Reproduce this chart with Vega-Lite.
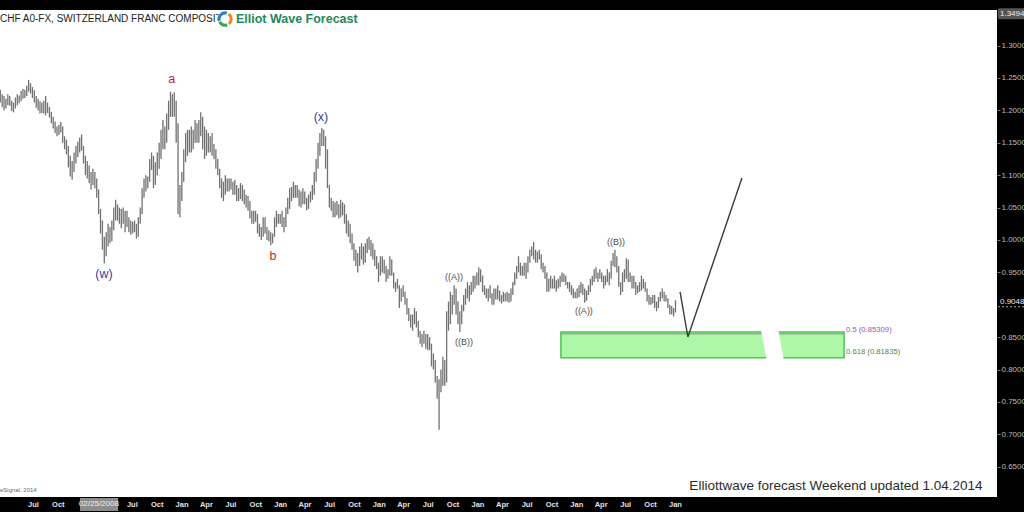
{
"$schema":"https://vega.github.io/schema/vega-lite/v6.json",
"width":997,"height":487,
"autosize":{"type":"none"},
"padding":{"left":0,"top":10,"right":27,"bottom":15},
"background":"#000000",
"config":{"font":"Liberation Sans","view":{"stroke":null,"fill":"#ffffff"},"axis":{"grid":false,"labelOverlap":false,"labelFlush":false,"labelBound":false}},
"datasets":{"bars":[
{"d":"2007-03-02","h":1.232,"l":1.212},{"d":"2007-03-09","h":1.225,"l":1.205},{"d":"2007-03-16","h":1.222,"l":1.200},{"d":"2007-03-23","h":1.218,"l":1.203},{"d":"2007-03-30","h":1.225,"l":1.208},
{"d":"2007-04-06","h":1.222,"l":1.207},{"d":"2007-04-13","h":1.215,"l":1.199},{"d":"2007-04-20","h":1.212,"l":1.197},{"d":"2007-04-27","h":1.220,"l":1.203},
{"d":"2007-05-04","h":1.225,"l":1.208},{"d":"2007-05-11","h":1.223,"l":1.211},{"d":"2007-05-18","h":1.230,"l":1.214},{"d":"2007-05-25","h":1.233,"l":1.218},
{"d":"2007-06-01","h":1.232,"l":1.219},{"d":"2007-06-08","h":1.238,"l":1.222},{"d":"2007-06-15","h":1.247,"l":1.229},{"d":"2007-06-22","h":1.242,"l":1.226},{"d":"2007-06-29","h":1.236,"l":1.219},
{"d":"2007-07-06","h":1.231,"l":1.212},{"d":"2007-07-13","h":1.222,"l":1.204},{"d":"2007-07-20","h":1.218,"l":1.200},{"d":"2007-07-27","h":1.214,"l":1.195},
{"d":"2007-08-03","h":1.212,"l":1.196},{"d":"2007-08-10","h":1.215,"l":1.195},{"d":"2007-08-17","h":1.222,"l":1.192},{"d":"2007-08-24","h":1.212,"l":1.196},{"d":"2007-08-31","h":1.205,"l":1.189},
{"d":"2007-09-07","h":1.198,"l":1.180},{"d":"2007-09-14","h":1.190,"l":1.172},{"d":"2007-09-21","h":1.183,"l":1.165},{"d":"2007-09-28","h":1.175,"l":1.160},
{"d":"2007-10-05","h":1.178,"l":1.162},{"d":"2007-10-12","h":1.182,"l":1.166},{"d":"2007-10-19","h":1.175,"l":1.150},{"d":"2007-10-26","h":1.160,"l":1.140},
{"d":"2007-11-02","h":1.155,"l":1.132},{"d":"2007-11-09","h":1.145,"l":1.112},{"d":"2007-11-16","h":1.130,"l":1.098},{"d":"2007-11-23","h":1.122,"l":1.093},{"d":"2007-11-30","h":1.135,"l":1.105},
{"d":"2007-12-07","h":1.145,"l":1.118},{"d":"2007-12-14","h":1.152,"l":1.128},{"d":"2007-12-21","h":1.158,"l":1.135},{"d":"2007-12-28","h":1.163,"l":1.138},
{"d":"2008-01-04","h":1.145,"l":1.118},{"d":"2008-01-11","h":1.130,"l":1.100},{"d":"2008-01-18","h":1.122,"l":1.095},{"d":"2008-01-25","h":1.115,"l":1.088},
{"d":"2008-02-01","h":1.105,"l":1.078},{"d":"2008-02-08","h":1.110,"l":1.085},{"d":"2008-02-15","h":1.105,"l":1.080},{"d":"2008-02-22","h":1.095,"l":1.065},{"d":"2008-02-29","h":1.078,"l":1.040},
{"d":"2008-03-07","h":1.048,"l":1.010},{"d":"2008-03-14","h":1.030,"l":0.985},{"d":"2008-03-21","h":1.005,"l":0.964},{"d":"2008-03-28","h":1.012,"l":0.975},
{"d":"2008-04-04","h":1.025,"l":0.990},{"d":"2008-04-11","h":1.020,"l":0.995},{"d":"2008-04-18","h":1.030,"l":0.998},{"d":"2008-04-25","h":1.050,"l":1.015},
{"d":"2008-05-02","h":1.062,"l":1.030},{"d":"2008-05-09","h":1.055,"l":1.030},{"d":"2008-05-16","h":1.050,"l":1.025},{"d":"2008-05-23","h":1.048,"l":1.018},{"d":"2008-05-30","h":1.050,"l":1.025},
{"d":"2008-06-06","h":1.045,"l":1.012},{"d":"2008-06-13","h":1.045,"l":1.020},{"d":"2008-06-20","h":1.035,"l":1.012},{"d":"2008-06-27","h":1.030,"l":1.008},
{"d":"2008-07-04","h":1.028,"l":1.010},{"d":"2008-07-11","h":1.030,"l":1.012},{"d":"2008-07-18","h":1.025,"l":1.002},{"d":"2008-07-25","h":1.035,"l":1.005},
{"d":"2008-08-01","h":1.050,"l":1.025},{"d":"2008-08-08","h":1.080,"l":1.040},{"d":"2008-08-15","h":1.095,"l":1.065},{"d":"2008-08-22","h":1.100,"l":1.075},{"d":"2008-08-29","h":1.098,"l":1.080},
{"d":"2008-09-05","h":1.125,"l":1.090},{"d":"2008-09-12","h":1.135,"l":1.108},{"d":"2008-09-19","h":1.130,"l":1.080},{"d":"2008-09-26","h":1.120,"l":1.085},
{"d":"2008-10-03","h":1.135,"l":1.100},{"d":"2008-10-10","h":1.150,"l":1.110},{"d":"2008-10-17","h":1.170,"l":1.125},{"d":"2008-10-24","h":1.185,"l":1.140},{"d":"2008-10-31","h":1.175,"l":1.140},
{"d":"2008-11-07","h":1.195,"l":1.150},{"d":"2008-11-14","h":1.215,"l":1.170},{"d":"2008-11-21","h":1.229,"l":1.190},{"d":"2008-11-28","h":1.225,"l":1.190},
{"d":"2008-12-05","h":1.228,"l":1.190},{"d":"2008-12-12","h":1.215,"l":1.150},{"d":"2008-12-19","h":1.180,"l":1.040},{"d":"2008-12-26","h":1.085,"l":1.035},
{"d":"2009-01-02","h":1.105,"l":1.060},{"d":"2009-01-09","h":1.140,"l":1.090},{"d":"2009-01-16","h":1.165,"l":1.120},{"d":"2009-01-23","h":1.170,"l":1.130},{"d":"2009-01-30","h":1.170,"l":1.135},
{"d":"2009-02-06","h":1.175,"l":1.135},{"d":"2009-02-13","h":1.170,"l":1.140},{"d":"2009-02-20","h":1.185,"l":1.150},{"d":"2009-02-27","h":1.180,"l":1.150},
{"d":"2009-03-06","h":1.185,"l":1.150},{"d":"2009-03-13","h":1.197,"l":1.160},{"d":"2009-03-20","h":1.190,"l":1.140},{"d":"2009-03-27","h":1.175,"l":1.125},
{"d":"2009-04-03","h":1.170,"l":1.130},{"d":"2009-04-10","h":1.165,"l":1.135},{"d":"2009-04-17","h":1.160,"l":1.135},{"d":"2009-04-24","h":1.165,"l":1.130},
{"d":"2009-05-01","h":1.148,"l":1.125},{"d":"2009-05-08","h":1.140,"l":1.110},{"d":"2009-05-15","h":1.125,"l":1.100},{"d":"2009-05-22","h":1.110,"l":1.080},{"d":"2009-05-29","h":1.095,"l":1.065},
{"d":"2009-06-05","h":1.090,"l":1.060},{"d":"2009-06-12","h":1.100,"l":1.070},{"d":"2009-06-19","h":1.095,"l":1.075},{"d":"2009-06-26","h":1.095,"l":1.075},
{"d":"2009-07-03","h":1.095,"l":1.078},{"d":"2009-07-10","h":1.090,"l":1.070},{"d":"2009-07-17","h":1.093,"l":1.070},{"d":"2009-07-24","h":1.085,"l":1.060},{"d":"2009-07-31","h":1.080,"l":1.060},
{"d":"2009-08-07","h":1.088,"l":1.063},{"d":"2009-08-14","h":1.085,"l":1.060},{"d":"2009-08-21","h":1.078,"l":1.055},{"d":"2009-08-28","h":1.070,"l":1.050},
{"d":"2009-09-04","h":1.068,"l":1.045},{"d":"2009-09-11","h":1.060,"l":1.033},{"d":"2009-09-18","h":1.045,"l":1.025},{"d":"2009-09-25","h":1.045,"l":1.025},
{"d":"2009-10-02","h":1.045,"l":1.028},{"d":"2009-10-09","h":1.040,"l":1.010},{"d":"2009-10-16","h":1.025,"l":1.005},{"d":"2009-10-23","h":1.020,"l":1.000},{"d":"2009-10-30","h":1.035,"l":1.005},
{"d":"2009-11-06","h":1.035,"l":1.010},{"d":"2009-11-13","h":1.020,"l":1.000},{"d":"2009-11-20","h":1.015,"l":0.998},{"d":"2009-11-27","h":1.012,"l":0.992},
{"d":"2009-12-04","h":1.010,"l":0.995},{"d":"2009-12-11","h":1.035,"l":1.005},{"d":"2009-12-18","h":1.045,"l":1.020},{"d":"2009-12-25","h":1.040,"l":1.025},
{"d":"2010-01-01","h":1.040,"l":1.025},{"d":"2010-01-08","h":1.045,"l":1.020},{"d":"2010-01-15","h":1.035,"l":1.012},{"d":"2010-01-22","h":1.050,"l":1.020},{"d":"2010-01-29","h":1.065,"l":1.040},
{"d":"2010-02-05","h":1.080,"l":1.048},{"d":"2010-02-12","h":1.082,"l":1.060},{"d":"2010-02-19","h":1.090,"l":1.065},{"d":"2010-02-26","h":1.085,"l":1.065},
{"d":"2010-03-05","h":1.085,"l":1.065},{"d":"2010-03-12","h":1.078,"l":1.052},{"d":"2010-03-19","h":1.075,"l":1.050},{"d":"2010-03-26","h":1.080,"l":1.055},
{"d":"2010-04-02","h":1.075,"l":1.055},{"d":"2010-04-09","h":1.065,"l":1.046},{"d":"2010-04-16","h":1.070,"l":1.048},{"d":"2010-04-23","h":1.075,"l":1.058},{"d":"2010-04-30","h":1.085,"l":1.062},
{"d":"2010-05-07","h":1.105,"l":1.070},{"d":"2010-05-14","h":1.125,"l":1.090},{"d":"2010-05-21","h":1.150,"l":1.110},{"d":"2010-05-28","h":1.165,"l":1.130},
{"d":"2010-06-04","h":1.173,"l":1.145},{"d":"2010-06-11","h":1.170,"l":1.145},{"d":"2010-06-18","h":1.160,"l":1.110},{"d":"2010-06-25","h":1.140,"l":1.080},
{"d":"2010-07-02","h":1.085,"l":1.050},{"d":"2010-07-09","h":1.065,"l":1.045},{"d":"2010-07-16","h":1.060,"l":1.035},{"d":"2010-07-23","h":1.058,"l":1.035},{"d":"2010-07-30","h":1.060,"l":1.038},
{"d":"2010-08-06","h":1.055,"l":1.033},{"d":"2010-08-13","h":1.062,"l":1.035},{"d":"2010-08-20","h":1.058,"l":1.038},{"d":"2010-08-27","h":1.055,"l":1.025},
{"d":"2010-09-03","h":1.040,"l":1.010},{"d":"2010-09-10","h":1.030,"l":1.005},{"d":"2010-09-17","h":1.025,"l":0.995},{"d":"2010-09-24","h":1.010,"l":0.985},
{"d":"2010-10-01","h":0.995,"l":0.968},{"d":"2010-10-08","h":0.985,"l":0.960},{"d":"2010-10-15","h":0.980,"l":0.950},{"d":"2010-10-22","h":0.990,"l":0.960},{"d":"2010-10-29","h":0.995,"l":0.970},
{"d":"2010-11-05","h":0.990,"l":0.962},{"d":"2010-11-12","h":0.995,"l":0.965},{"d":"2010-11-19","h":1.002,"l":0.980},{"d":"2010-11-26","h":1.005,"l":0.985},
{"d":"2010-12-03","h":1.000,"l":0.975},{"d":"2010-12-10","h":0.995,"l":0.970},{"d":"2010-12-17","h":0.985,"l":0.960},{"d":"2010-12-24","h":0.975,"l":0.955},{"d":"2010-12-31","h":0.965,"l":0.935},
{"d":"2011-01-07","h":0.975,"l":0.945},{"d":"2011-01-14","h":0.975,"l":0.950},{"d":"2011-01-21","h":0.970,"l":0.948},{"d":"2011-01-28","h":0.960,"l":0.935},
{"d":"2011-02-04","h":0.955,"l":0.940},{"d":"2011-02-11","h":0.975,"l":0.945},{"d":"2011-02-18","h":0.970,"l":0.945},{"d":"2011-02-25","h":0.950,"l":0.925},
{"d":"2011-03-04","h":0.935,"l":0.920},{"d":"2011-03-11","h":0.940,"l":0.925},{"d":"2011-03-18","h":0.930,"l":0.895},{"d":"2011-03-25","h":0.925,"l":0.905},
{"d":"2011-04-01","h":0.930,"l":0.912},{"d":"2011-04-08","h":0.920,"l":0.900},{"d":"2011-04-15","h":0.910,"l":0.885},{"d":"2011-04-22","h":0.895,"l":0.875},{"d":"2011-04-29","h":0.885,"l":0.865},
{"d":"2011-05-06","h":0.885,"l":0.860},{"d":"2011-05-13","h":0.895,"l":0.870},{"d":"2011-05-20","h":0.890,"l":0.865},{"d":"2011-05-27","h":0.875,"l":0.850},
{"d":"2011-06-03","h":0.860,"l":0.840},{"d":"2011-06-10","h":0.855,"l":0.835},{"d":"2011-06-17","h":0.860,"l":0.840},{"d":"2011-06-24","h":0.855,"l":0.832},
{"d":"2011-07-01","h":0.855,"l":0.830},{"d":"2011-07-08","h":0.850,"l":0.830},{"d":"2011-07-15","h":0.840,"l":0.805},{"d":"2011-07-22","h":0.825,"l":0.800},{"d":"2011-07-29","h":0.815,"l":0.780},
{"d":"2011-08-05","h":0.790,"l":0.755},{"d":"2011-08-12","h":0.785,"l":0.707},{"d":"2011-08-19","h":0.800,"l":0.765},{"d":"2011-08-26","h":0.820,"l":0.775},
{"d":"2011-09-02","h":0.815,"l":0.775},{"d":"2011-09-09","h":0.890,"l":0.780},{"d":"2011-09-16","h":0.905,"l":0.860},{"d":"2011-09-23","h":0.920,"l":0.870},{"d":"2011-09-30","h":0.915,"l":0.885},
{"d":"2011-10-07","h":0.930,"l":0.900},{"d":"2011-10-14","h":0.925,"l":0.885},{"d":"2011-10-21","h":0.905,"l":0.870},{"d":"2011-10-28","h":0.890,"l":0.858},
{"d":"2011-11-04","h":0.900,"l":0.870},{"d":"2011-11-11","h":0.915,"l":0.890},{"d":"2011-11-18","h":0.925,"l":0.900},{"d":"2011-11-25","h":0.935,"l":0.910},
{"d":"2011-12-02","h":0.930,"l":0.905},{"d":"2011-12-09","h":0.935,"l":0.915},{"d":"2011-12-16","h":0.945,"l":0.920},{"d":"2011-12-23","h":0.945,"l":0.925},{"d":"2011-12-30","h":0.950,"l":0.930},
{"d":"2012-01-06","h":0.958,"l":0.930},{"d":"2012-01-13","h":0.955,"l":0.935},{"d":"2012-01-20","h":0.945,"l":0.920},{"d":"2012-01-27","h":0.930,"l":0.915},
{"d":"2012-02-03","h":0.925,"l":0.910},{"d":"2012-02-10","h":0.925,"l":0.905},{"d":"2012-02-17","h":0.930,"l":0.910},{"d":"2012-02-24","h":0.918,"l":0.900},
{"d":"2012-03-02","h":0.925,"l":0.900},{"d":"2012-03-09","h":0.925,"l":0.908},{"d":"2012-03-16","h":0.930,"l":0.908},{"d":"2012-03-23","h":0.922,"l":0.905},{"d":"2012-03-30","h":0.915,"l":0.902},
{"d":"2012-04-06","h":0.920,"l":0.905},{"d":"2012-04-13","h":0.918,"l":0.905},{"d":"2012-04-20","h":0.920,"l":0.905},{"d":"2012-04-27","h":0.918,"l":0.903},
{"d":"2012-05-04","h":0.925,"l":0.905},{"d":"2012-05-11","h":0.935,"l":0.915},{"d":"2012-05-18","h":0.950,"l":0.930},{"d":"2012-05-25","h":0.960,"l":0.940},
{"d":"2012-06-01","h":0.975,"l":0.950},{"d":"2012-06-08","h":0.965,"l":0.945},{"d":"2012-06-15","h":0.960,"l":0.945},{"d":"2012-06-22","h":0.965,"l":0.945},{"d":"2012-06-29","h":0.965,"l":0.940},
{"d":"2012-07-06","h":0.975,"l":0.950},{"d":"2012-07-13","h":0.985,"l":0.965},{"d":"2012-07-20","h":0.990,"l":0.975},{"d":"2012-07-27","h":0.997,"l":0.970},
{"d":"2012-08-03","h":0.985,"l":0.965},{"d":"2012-08-10","h":0.982,"l":0.965},{"d":"2012-08-17","h":0.985,"l":0.970},{"d":"2012-08-24","h":0.978,"l":0.955},{"d":"2012-08-31","h":0.965,"l":0.950},
{"d":"2012-09-07","h":0.960,"l":0.940},{"d":"2012-09-14","h":0.950,"l":0.920},{"d":"2012-09-21","h":0.940,"l":0.920},{"d":"2012-09-28","h":0.945,"l":0.925},
{"d":"2012-10-05","h":0.940,"l":0.925},{"d":"2012-10-12","h":0.945,"l":0.925},{"d":"2012-10-19","h":0.938,"l":0.920},{"d":"2012-10-26","h":0.940,"l":0.925},
{"d":"2012-11-02","h":0.945,"l":0.928},{"d":"2012-11-09","h":0.950,"l":0.935},{"d":"2012-11-16","h":0.948,"l":0.935},{"d":"2012-11-23","h":0.945,"l":0.930},{"d":"2012-11-30","h":0.935,"l":0.925},
{"d":"2012-12-07","h":0.935,"l":0.920},{"d":"2012-12-14","h":0.930,"l":0.915},{"d":"2012-12-21","h":0.925,"l":0.910},{"d":"2012-12-28","h":0.920,"l":0.910},
{"d":"2013-01-04","h":0.925,"l":0.910},{"d":"2013-01-11","h":0.930,"l":0.912},{"d":"2013-01-18","h":0.935,"l":0.918},{"d":"2013-01-25","h":0.932,"l":0.915},
{"d":"2013-02-01","h":0.925,"l":0.903},{"d":"2013-02-08","h":0.922,"l":0.906},{"d":"2013-02-15","h":0.930,"l":0.915},{"d":"2013-02-22","h":0.940,"l":0.920},
{"d":"2013-03-01","h":0.945,"l":0.930},{"d":"2013-03-08","h":0.955,"l":0.935},{"d":"2013-03-15","h":0.958,"l":0.940},{"d":"2013-03-22","h":0.950,"l":0.935},{"d":"2013-03-29","h":0.955,"l":0.940},
{"d":"2013-04-05","h":0.950,"l":0.935},{"d":"2013-04-12","h":0.945,"l":0.925},{"d":"2013-04-19","h":0.945,"l":0.930},{"d":"2013-04-26","h":0.955,"l":0.935},
{"d":"2013-05-03","h":0.950,"l":0.930},{"d":"2013-05-10","h":0.968,"l":0.940},{"d":"2013-05-17","h":0.980,"l":0.960},{"d":"2013-05-24","h":0.985,"l":0.958},{"d":"2013-05-31","h":0.975,"l":0.950},
{"d":"2013-06-07","h":0.960,"l":0.928},{"d":"2013-06-14","h":0.935,"l":0.915},{"d":"2013-06-21","h":0.950,"l":0.920},{"d":"2013-06-28","h":0.955,"l":0.935},
{"d":"2013-07-05","h":0.972,"l":0.940},{"d":"2013-07-12","h":0.970,"l":0.935},{"d":"2013-07-19","h":0.950,"l":0.935},{"d":"2013-07-26","h":0.945,"l":0.925},
{"d":"2013-08-02","h":0.945,"l":0.925},{"d":"2013-08-09","h":0.935,"l":0.915},{"d":"2013-08-16","h":0.930,"l":0.918},{"d":"2013-08-23","h":0.935,"l":0.920},{"d":"2013-08-30","h":0.945,"l":0.922},
{"d":"2013-09-06","h":0.940,"l":0.925},{"d":"2013-09-13","h":0.935,"l":0.920},{"d":"2013-09-20","h":0.925,"l":0.905},{"d":"2013-09-27","h":0.915,"l":0.900},
{"d":"2013-10-04","h":0.912,"l":0.900},{"d":"2013-10-11","h":0.915,"l":0.902},{"d":"2013-10-18","h":0.915,"l":0.895},{"d":"2013-10-25","h":0.905,"l":0.890},
{"d":"2013-11-01","h":0.912,"l":0.895},{"d":"2013-11-08","h":0.920,"l":0.905},{"d":"2013-11-15","h":0.925,"l":0.910},{"d":"2013-11-22","h":0.920,"l":0.905},{"d":"2013-11-29","h":0.915,"l":0.905},
{"d":"2013-12-06","h":0.910,"l":0.895},{"d":"2013-12-13","h":0.900,"l":0.885},{"d":"2013-12-20","h":0.898,"l":0.885},{"d":"2013-12-27","h":0.895,"l":0.882},
{"d":"2014-01-03","h":0.907,"l":0.888}
]},
"layer":[
{"data":{"name":"bars"},
 "mark":{"type":"rule","color":"#717171","strokeWidth":1.3},
 "encoding":{
  "x":{"field":"d","type":"temporal","title":null,
   "scale":{"domain":[{"year":2007,"month":3,"date":1},{"year":2017,"month":4,"date":7}],"nice":false},
   "axis":{"orient":"bottom","format":"%b","formatType":"time",
    "values":[{"year":2007,"month":7,"date":1},{"year":2007,"month":10,"date":1},{"year":2008,"month":7,"date":1},{"year":2008,"month":10,"date":1},
     {"year":2009,"month":1,"date":1},{"year":2009,"month":4,"date":1},{"year":2009,"month":7,"date":1},{"year":2009,"month":10,"date":1},
     {"year":2010,"month":1,"date":1},{"year":2010,"month":4,"date":1},{"year":2010,"month":7,"date":1},{"year":2010,"month":10,"date":1},
     {"year":2011,"month":1,"date":1},{"year":2011,"month":4,"date":1},{"year":2011,"month":7,"date":1},{"year":2011,"month":10,"date":1},
     {"year":2012,"month":1,"date":1},{"year":2012,"month":4,"date":1},{"year":2012,"month":7,"date":1},{"year":2012,"month":10,"date":1},
     {"year":2013,"month":1,"date":1},{"year":2013,"month":4,"date":1},{"year":2013,"month":7,"date":1},{"year":2013,"month":10,"date":1},
     {"year":2014,"month":1,"date":1}],
    "labelColor":"#e4e4e4","labelFontSize":7.5,"labelFontWeight":"bold","ticks":false,"domain":false,"grid":false,
    "labelPadding":3,"labelOverlap":false,"labelFlush":false,"labelSeparation":0}},
  "y":{"field":"h","type":"quantitative","title":null,
   "scale":{"domain":[0.6034,1.3549],"nice":false,"zero":false},
   "axis":{"orient":"right","values":[0.65,0.7,0.75,0.8,0.85,0.95,1.0,1.05,1.1,1.15,1.2,1.25,1.3],"format":".5f",
    "labelColor":"#bdbdbd","labelFontSize":8,"tickSize":3,"tickColor":"#777777","domain":false,"grid":false,
    "labelPadding":1,"labelOverlap":false,"labelFlush":false}},
  "y2":{"field":"l"}}},
{"data":{"values":[{"a":"2012-11-05","b":"2015-09-19","top":0.858,"bot":0.8183}]},
 "mark":{"type":"rect","fill":"#adf8a8","stroke":"#4fc24f","strokeWidth":1.5},
 "encoding":{"x":{"field":"a","type":"temporal","title":null},"x2":{"field":"b"},
  "y":{"field":"top","type":"quantitative","title":null},"y2":{"field":"bot"}}},
{"data":{"values":[{"a":"2012-11-05","b":"2015-09-19","p":0.855}]},
 "mark":{"type":"rule","color":"#9a9a9a","strokeWidth":1.3},
 "encoding":{"x":{"field":"a","type":"temporal","title":null},"x2":{"field":"b"},
  "y":{"field":"p","type":"quantitative","title":null}}},
{"data":{"values":[{"d":"2014-10-24","p":0.9846},{"d":"2015-03-03","p":0.6914}]},
 "mark":{"type":"line","color":"#ffffff","strokeWidth":17},
 "encoding":{"x":{"field":"d","type":"temporal","title":null},"y":{"field":"p","type":"quantitative","title":null}}},
{"data":{"values":[{"d":"2014-01-20","p":0.9198},{"d":"2014-02-18","p":0.8503},{"d":"2014-09-06","p":1.0957}]},
 "mark":{"type":"line","color":"#3a3a3a","strokeWidth":1.4},
 "encoding":{"x":{"field":"d","type":"temporal","title":null},"y":{"field":"p","type":"quantitative","title":null}}},
{"data":{"values":[{"d":"2008-11-26","p":1.2485,"t":"a"},{"d":"2009-12-05","p":0.9753,"t":"b"}]},
 "mark":{"type":"text","color":"#c41e1e","fontSize":12.5,"align":"center","baseline":"middle"},
 "encoding":{"x":{"field":"d","type":"temporal","title":null},"y":{"field":"p","type":"quantitative","title":null},"text":{"field":"t"}}},
{"data":{"values":[{"d":"2010-06-01","p":1.1898,"t":"(x)"},{"d":"2008-03-20","p":0.9475,"t":"(w)"}]},
 "mark":{"type":"text","color":"#2f3f9e","fontSize":12.5,"align":"center","baseline":"middle"},
 "encoding":{"x":{"field":"d","type":"temporal","title":null},"y":{"field":"p","type":"quantitative","title":null},"text":{"field":"t"}}},
{"data":{"values":[{"d":"2011-10-06","p":0.9429,"t":"((A))"},{"d":"2011-11-12","p":0.8426,"t":"((B))"},{"d":"2013-01-29","p":0.8904,"t":"((A))"},{"d":"2013-05-28","p":0.9969,"t":"((B))"}]},
 "mark":{"type":"text","color":"#4a4a4a","fontSize":9,"align":"center","baseline":"middle"},
 "encoding":{"x":{"field":"d","type":"temporal","title":null},"y":{"field":"p","type":"quantitative","title":null},"text":{"field":"t"}}},
{"data":{"values":[{"d":"2015-09-26","p":0.8611,"t":"0.5 (0.85309)"}]},
 "mark":{"type":"text","color":"#a050b0","fontSize":7.7,"align":"left","baseline":"middle"},
 "encoding":{"x":{"field":"d","type":"temporal","title":null},"y":{"field":"p","type":"quantitative","title":null},"text":{"field":"t"}}},
{"data":{"values":[{"d":"2015-09-26","p":0.8272,"t":"0.618 (0.81835)"}]},
 "mark":{"type":"text","color":"#4a864a","fontSize":7.7,"align":"left","baseline":"middle"},
 "encoding":{"x":{"field":"d","type":"temporal","title":null},"y":{"field":"p","type":"quantitative","title":null},"text":{"field":"t"}}},
{"data":{"values":[{"d":"2015-08-20","p":0.6204,"t":"Elliottwave forecast Weekend updated 1.04.2014"}]},
 "mark":{"type":"text","color":"#2b2b2b","fontSize":13.5,"align":"center","baseline":"middle"},
 "encoding":{"x":{"field":"d","type":"temporal","title":null},"y":{"field":"p","type":"quantitative","title":null},"text":{"field":"t"}}},
{"data":{"values":[{"d":"2007-03-01","p":0.6142,"t":"eSignal, 2014"}]},
 "mark":{"type":"text","color":"#666666","fontSize":6,"align":"left","baseline":"middle"},
 "encoding":{"x":{"field":"d","type":"temporal","title":null},"y":{"field":"p","type":"quantitative","title":null},"text":{"field":"t"}}},
{"data":{"values":[{"d":"2007-03-01","p":1.341,"t":"CHF A0-FX, SWITZERLAND FRANC COMPOSITE"}]},
 "mark":{"type":"text","color":"#222222","fontSize":10,"align":"left","baseline":"middle"},
 "encoding":{"x":{"field":"d","type":"temporal","title":null},"y":{"field":"p","type":"quantitative","title":null},"text":{"field":"t"}}},
{"data":{"values":[{"d":"2009-06-11","p":1.341}]},
 "mark":{"type":"point","shape":"circle","filled":true,"color":"#ffffff","size":260,"opacity":1},
 "encoding":{"x":{"field":"d","type":"temporal","title":null},"y":{"field":"p","type":"quantitative","title":null}}},
{"data":{"values":[{"d":"2009-06-11","p":1.341}]},
 "mark":{"type":"point","shape":"M -0.95 0.3 A 1 1 0 0 1 0.3 -0.95","filled":false,"stroke":"#2a7fc4","strokeWidth":3,"size":150,"opacity":1},
 "encoding":{"x":{"field":"d","type":"temporal","title":null},"y":{"field":"p","type":"quantitative","title":null}}},
{"data":{"values":[{"d":"2009-06-11","p":1.341}]},
 "mark":{"type":"point","shape":"M 0.55 -0.83 A 1 1 0 0 1 0.6 0.8","filled":false,"stroke":"#f08a24","strokeWidth":3,"size":150,"opacity":1},
 "encoding":{"x":{"field":"d","type":"temporal","title":null},"y":{"field":"p","type":"quantitative","title":null}}},
{"data":{"values":[{"d":"2009-06-11","p":1.341}]},
 "mark":{"type":"point","shape":"M 0.35 0.94 A 1 1 0 0 1 -0.9 0.45","filled":false,"stroke":"#3aa84a","strokeWidth":3,"size":150,"opacity":1},
 "encoding":{"x":{"field":"d","type":"temporal","title":null},"y":{"field":"p","type":"quantitative","title":null}}},
{"data":{"values":[{"d":"2009-07-21","p":1.341,"t":"Elliot Wave Forecast"}]},
 "mark":{"type":"text","color":"#23885a","fontSize":12.5,"fontWeight":"bold","align":"left","baseline":"middle"},
 "encoding":{"x":{"field":"d","type":"temporal","title":null},"y":{"field":"p","type":"quantitative","title":null},"text":{"field":"t"}}},
{"data":{"values":[{"a":"2007-12-22","b":"2008-05-11","top":0.6019,"bot":0.5818}]},
 "mark":{"type":"rect","fill":"#8c8c8c"},
 "encoding":{"x":{"field":"a","type":"temporal","title":null},"x2":{"field":"b"},
  "y":{"field":"top","type":"quantitative","title":null},"y2":{"field":"bot"}}},
{"data":{"values":[{"d":"2008-03-01","p":0.5926,"t":"02/25/2008"}]},
 "mark":{"type":"text","color":"#f0f0f0","fontSize":8,"align":"center","baseline":"middle"},
 "encoding":{"x":{"field":"d","type":"temporal","title":null},"y":{"field":"p","type":"quantitative","title":null},"text":{"field":"t"}}},
{"data":{"values":[{"a":"2017-04-10","b":"2017-07-20","top":1.3575,"bot":1.3405}]},
 "mark":{"type":"rect","fill":"#555555","cornerRadius":2},
 "encoding":{"x":{"field":"a","type":"temporal","title":null},"x2":{"field":"b"},
  "y":{"field":"top","type":"quantitative","title":null},"y2":{"field":"bot"}}},
{"data":{"values":[{"d":"2017-04-18","p":1.3494,"t":"1.3494"},{"d":"2017-04-18","p":0.9048,"t":"0.9048"}]},
 "mark":{"type":"text","color":"#eeeeee","fontSize":8,"align":"left","baseline":"middle"},
 "encoding":{"x":{"field":"d","type":"temporal","title":null},"y":{"field":"p","type":"quantitative","title":null},"text":{"field":"t"}}},
{"data":{"values":[{"a":"2017-04-11","b":"2017-07-16","p":0.897}]},
 "mark":{"type":"rule","color":"#aaaaaa","strokeWidth":1,"strokeDash":[2,2]},
 "encoding":{"x":{"field":"a","type":"temporal","title":null},"x2":{"field":"b"},
  "y":{"field":"p","type":"quantitative","title":null}}}
]
}
